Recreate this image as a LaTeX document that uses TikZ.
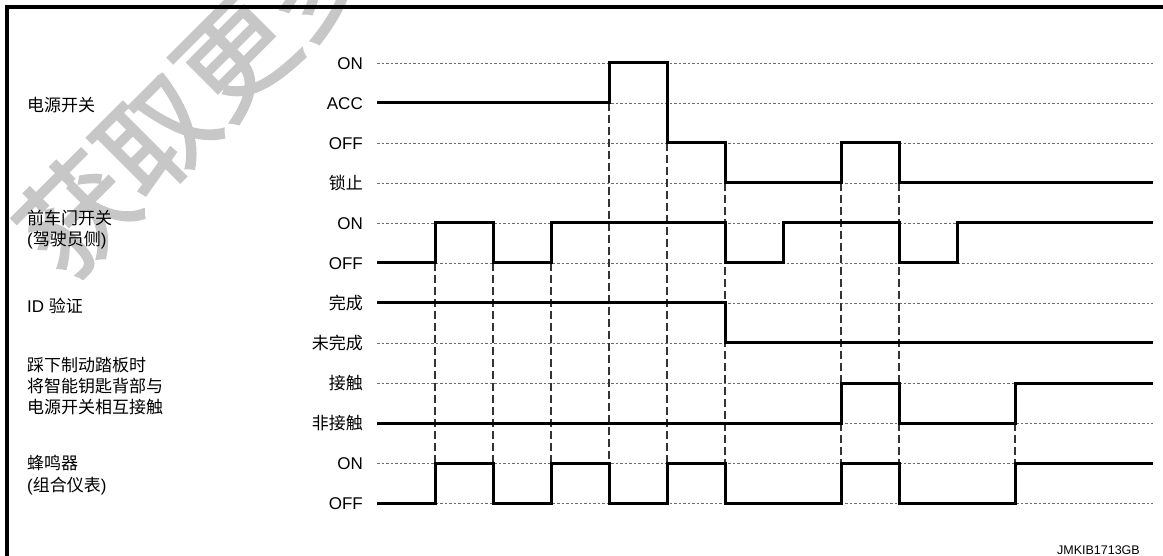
\documentclass[tikz,border=0pt]{standalone}
\usepackage{fontspec}
\setmainfont{Liberation Sans}
\newfontfamily\cjk{Noto Sans CJK SC}
\newfontfamily\cjkwm[FakeBold=2]{Noto Sans CJK SC}
\begin{document}
\begin{tikzpicture}[x=1pt,y=-1pt,
  sig/.style={line width=3pt, line join=miter},
  gridline/.style={gray!85!black, line width=0.9pt, dash pattern=on 2.5pt off 2pt},
  vguide/.style={black!80, line width=1.3pt, dash pattern=on 8pt off 4pt},
  frameline/.style={line width=3.5pt, line join=miter},
  lab/.style={anchor=base west, inner sep=0pt, font=\fontsize{17}{20}\selectfont},
  st/.style={anchor=base east, inner sep=0pt, font=\fontsize{17}{20}\selectfont},
  wm/.style={text=black!22, inner sep=0pt, rotate=45, font=\cjkwm\fontsize{112}{120}\selectfont},
  code/.style={anchor=base east, inner sep=0pt, font=\fontsize{12.5}{14}\selectfont}]
\useasboundingbox (0,0) rectangle (1163,556);
\begin{scope}
  \clip (0,0) rectangle (1163,556);
  \node[wm] (water) at (195,95) {获取更多};
\end{scope}
% frame
\draw[frameline] (7,556) -- (7,7) -- (1163,7);
% grid rows
\foreach \r in {63,103,143,183,223,263,303,343,383,423,463,503}
  \draw[gridline] (377,\r) -- (1153,\r);
% dashed guides
\foreach \x in {435,493,551} \draw[vguide] (\x,263) -- (\x,463);
\draw[vguide] (609,103) -- (609,463);
\draw[vguide] (667,143) -- (667,463);
\foreach \x in {725,841,899} \draw[vguide] (\x,183) -- (\x,463);
\draw[vguide] (1015,423) -- (1015,463);
% signals
\draw[sig] (377,103) -| (609,63) -| (667,143) -| (725,183) -| (841,143) -| (899,183) -- (1153,183);
\draw[sig] (377,263) -| (435,223) -| (493,263) -| (551,223) -| (725,263) -| (783,223) -| (899,263) -| (957,223) -- (1153,223);
\draw[sig] (377,303) -| (725,343) -- (1153,343);
\draw[sig] (377,423) -| (841,383) -| (899,423) -| (1015,383) -- (1153,383);
\draw[sig] (377,503) -| (435,463) -| (493,503) -| (551,463) -| (609,503) -| (667,463) -| (725,503) -| (841,463) -| (899,503) -| (1015,463) -- (1153,463);
% state labels
\node[st] (s1) at (363,69.3) {ON};
\node[st] (s2) at (363,109.3) {ACC};
\node[st] (s3) at (363,149.3) {OFF};
\node[st] (s4) at (363,189.3) {\cjk 锁止};
\node[st] (s5) at (363,229.3) {ON};
\node[st] (s6) at (363,269.3) {OFF};
\node[st] (s7) at (363,309.3) {\cjk 完成};
\node[st] (s8) at (363,349.3) {\cjk 未完成};
\node[st] (s9) at (363,389.3) {\cjk 接触};
\node[st] (s10) at (363,429.3) {\cjk 非接触};
\node[st] (s11) at (363,469.3) {ON};
\node[st] (s12) at (363,509.3) {OFF};
% signal names
\node[lab] (n1) at (27,111.3) {\cjk 电源开关};
\node[lab] (n2) at (27,225) {\cjk 前车门开关};
\node[lab] (n2b) at (27,245.8) {({\cjk 驾驶员侧})};
\node[lab] (n3) at (27,312.5) {ID {\cjk 验证}};
\node[lab] (n4) at (27,371) {\cjk 踩下制动踏板时};
\node[lab] (n4b) at (27,392.3) {\cjk 将智能钥匙背部与};
\node[lab] (n4c) at (27,413.8) {\cjk 电源开关相互接触};
\node[lab] (n5) at (27,469) {\cjk 蜂鸣器};
\node[lab] (n5b) at (27,491.3) {({\cjk 组合仪表})};
\node[code] (id) at (1140,554) {JMKIB1713GB};
\end{tikzpicture}
\end{document}
